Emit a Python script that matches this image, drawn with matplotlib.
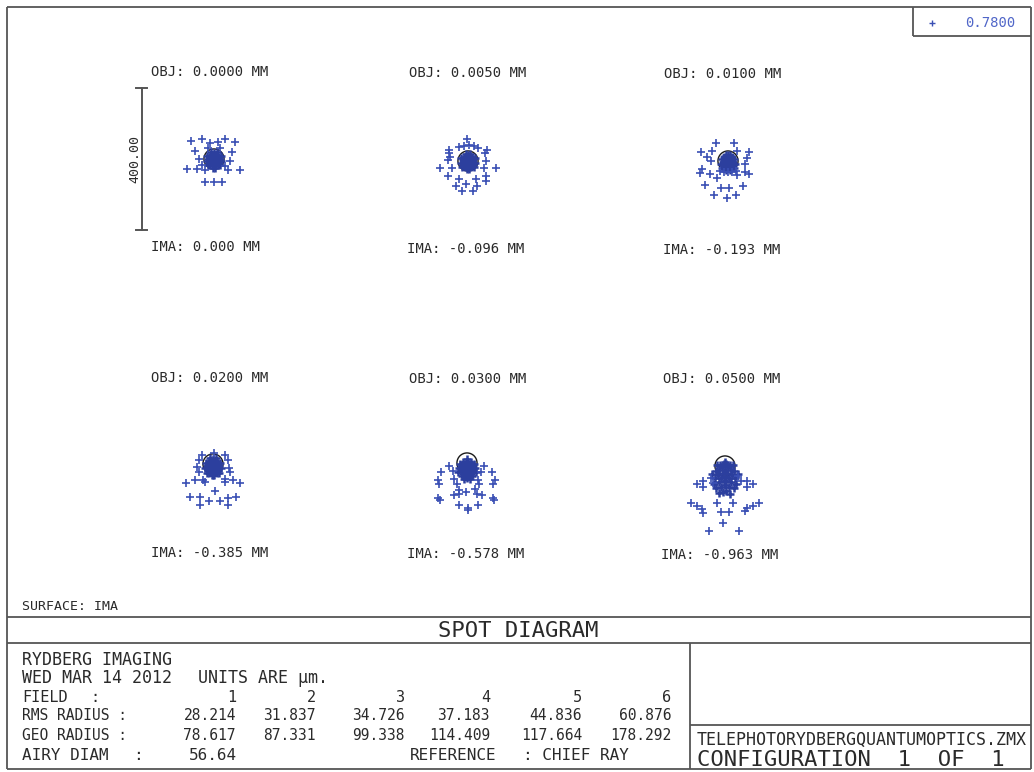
import matplotlib
matplotlib.use("Agg")
import matplotlib.pyplot as plt
from matplotlib.patches import Circle

plt.rcParams['font.family'] = ['DejaVu Sans Mono', 'DejaVu Sans']

# spot diagram data, microns relative to chief ray (x right, y up)
airy_diam = 56.64
scale_bar = 400.0
legend_wave = "0.7800"

obj_labels = ["OBJ: 0.0000 MM", "OBJ: 0.0050 MM", "OBJ: 0.0100 MM",
              "OBJ: 0.0200 MM", "OBJ: 0.0300 MM", "OBJ: 0.0500 MM"]
ima_labels = ["IMA: 0.000 MM", "IMA: -0.096 MM", "IMA: -0.193 MM",
              "IMA: -0.385 MM", "IMA: -0.578 MM", "IMA: -0.963 MM"]

ring1 = [(-64, 52), (-34, 56), (-12, 45), (11, 49), (32, 56), (60, 47), (-54, 23), (51, 19),
         (-75, -28), (-47, -28), (-25, -32), (39, -30), (72, -30), (-26, -65), (0, -65), (23, -65),
         (-42, 0), (45, -6), (-34, -17), (31, -20), (-17, 31), (17, 31)]
core1 = [(0, 0), (8, 2), (-8, 2), (16, 0), (-16, 0), (4, 10), (-4, 10), (12, 12), (-12, 12), (0, 18),
         (6, -8), (-6, -8), (14, -10), (-14, -10), (0, -16), (10, -18), (-10, -18), (20, -6), (-20, -6),
         (20, 8), (-20, 8), (4, -24), (-4, -24), (8, 20), (-8, 20), (16, -18), (-16, -18)]

ring2 = [(-2, 63), (-54, 23), (48, 23), (-56, 2), (52, 0), (-80, -20), (-46, -19), (45, -19), (80, -20),
         (-56, -43), (-25, -50), (23, -50), (52, -43), (50, -56), (-33, -71), (-6, -66), (26, -71),
         (-18, -85), (14, -85), (-25, 39), (-11, 42), (3, 44), (17, 42), (28, 37), (-54, 31), (54, 31),
         (-51, 11)]
core2 = [(0, 2), (7, -3), (-7, -3), (14, 2), (-14, 2), (5, 10), (-5, 10), (12, 12), (-12, 12), (0, 18),
         (4, -10), (-4, -10), (13, -11), (-13, -11), (0, -18), (9, -17), (-9, -17), (19, -5), (-19, -5),
         (19, 8), (-19, 8), (3, -22), (-3, -22), (7, 19), (-7, 19), (16, -16), (-16, -16)]

ring3 = [(-33, 52), (16, 52), (-75, 26), (-45, 28), (25, 28), (58, 26), (-59, 12), (54, 9), (-73, -22),
         (-78, -35), (-50, -38), (-31, -47), (25, -40), (49, -31), (58, -38), (-64, -69), (-19, -75),
         (2, -75), (41, -70), (-40, -97), (-3, -103), (23, -97), (-23, -28), (0, -31), (23, -28),
         (-11, -31), (11, -31), (-48, 0), (48, -8)]
core3 = [(0, -2), (8, 1), (-8, 1), (15, -3), (-15, -3), (4, 8), (-4, 8), (11, 12), (-11, 12), (0, 16),
         (6, -10), (-6, -10), (14, -12), (-14, -12), (0, -18), (9, -20), (-9, -20), (20, -8), (-20, -8),
         (18, 5), (-18, 5), (5, -25), (-5, -25), (6, 18), (-6, 18), (16, -19), (-16, -19)]

ring4 = [(-30, 26), (2, 30), (33, 26), (-39, 11), (42, 11), (-45, -8), (45, -11), (-39, -23), (49, -23),
         (-75, -54), (-52, -45), (-28, -45), (-23, -52), (33, -42), (33, -52), (56, -45), (77, -54),
         (5, -77), (-64, -92), (-36, -94), (-11, -105), (-38, -115), (19, -105), (42, -96), (66, -92),
         (42, -115)]
core4 = [(0, -6), (8, -2), (-8, -2), (16, -6), (-16, -6), (4, 6), (-4, 6), (12, 8), (-12, 8), (0, 14),
         (6, -14), (-6, -14), (15, -16), (-15, -16), (0, -22), (10, -26), (-10, -26), (22, -12), (-22, -12),
         (21, 2), (-21, 2), (4, -32), (-4, -32), (8, 16), (-8, 16), (18, -24), (-18, -24), (0, -30)]

ring5 = [(-52, -9), (49, -9), (-73, -25), (-40, -23), (39, -25), (70, -25), (-83, -49), (-78, -58),
         (-36, -44), (-29, -58), (30, -47), (35, -60), (80, -49), (74, -60), (-23, -75), (-3, -82),
         (23, -72), (-83, -98), (-76, -105), (-36, -91), (-23, -88), (27, -88), (42, -91), (74, -98),
         (77, -105), (-22, -119), (2, -132), (30, -119), (3, -128)]
core5 = [(0, -10), (8, -6), (-8, -6), (16, -10), (-16, -10), (4, 2), (-4, 2), (12, 4), (-12, 4), (0, 10),
         (6, -18), (-6, -18), (16, -20), (-16, -20), (0, -26), (10, -30), (-10, -30), (22, -14), (-22, -14),
         (20, -2), (-20, -2), (4, -36), (-4, -36), (14, -38), (-14, -38), (24, -26), (-24, -26), (0, -42),
         (8, -44), (-8, -44)]

ring6 = [(-78, -52), (-61, -42), (-61, -59), (-40, -33), (-35, -47), (37, -28), (44, -42), (63, -42),
         (78, -52), (63, -59), (-97, -103), (-80, -113), (-66, -122), (-63, -132), (-23, -103),
         (-12, -129), (12, -129), (22, -103), (56, -127), (63, -119), (78, -113), (97, -103), (-6, -160),
         (-44, -183), (40, -183)]
core6 = [(0, -10), (8, -4), (-8, -4), (16, -12), (-16, -12), (4, 6), (-4, 6), (14, 4), (-14, 4), (0, 12),
         (6, -20), (-6, -20), (20, -24), (-20, -24), (0, -30), (12, -34), (-12, -34), (26, -14), (-26, -14),
         (28, -34), (-28, -34), (4, -42), (-4, -42), (18, -46), (-18, -46), (32, -50), (-32, -50), (0, -54),
         (10, -58), (-10, -58), (24, -62), (-24, -62), (4, -70), (-6, -72), (14, -78), (-16, -76),
         (36, -22), (-36, -22), (22, 2), (-22, 2)]

rings = [ring1, ring2, ring3, ring4, ring5, ring6]
cores = [core1, core2, core3, core4, core5, core6]

# table
table_fields = ["1", "2", "3", "4", "5", "6"]
rms_radius = ["28.214", "31.837", "34.726", "37.183", "44.836", "60.876"]
geo_radius = ["78.617", "87.331", "99.338", "114.409", "117.664", "178.292"]

W, H = 1034, 772
fig = plt.figure(figsize=(W / 100, H / 100), dpi=100)
ax = fig.add_axes([0, 0, 1, 1])
ax.set_xlim(0, W)
ax.set_ylim(H, 0)
ax.axis('off')

ink = '#2a2a2a'
lc = '#555555'
blue = '#3a4fb4'

# frame
def line(x0, y0, x1, y1, lw=1.3):
    ax.plot([x0, x1], [y0, y1], color=lc, lw=lw, solid_capstyle='butt')

line(7, 7, 1031, 7)
line(7, 7, 7, 769)
line(1031, 7, 1031, 769)
line(7, 769, 1031, 769)
line(7, 617, 1031, 617)
line(7, 643, 1031, 643)
line(690, 643, 690, 769)
line(690, 725, 1031, 725)
line(913, 7, 913, 36)
line(913, 36, 1031, 36)

# legend
ax.plot([932], [23], marker='+', ms=4, mew=1, color=blue, ls='none')
ax.text(990, 23, legend_wave, color='#5066c8', fontsize=10, ha='center', va='center')

# spot panels
centers = [(214, 159), (468, 161), (728, 161), (213, 464), (467, 463), (725, 466)]
obj_pos = [(210, 72), (468, 73), (723, 74), (210, 378), (468, 379), (722, 379)]
ima_pos = [(205, 247), (466, 249), (722, 250), (210, 553), (466, 554), (720, 555)]
px_per_um = 142 / scale_bar
half = 250

for i in range(6):
    cx, cy = centers[i]
    s = half * px_per_um
    a = fig.add_axes([(cx - s) / W, (H - cy - s) / H, 2 * s / W, 2 * s / H])
    a.set_xlim(-half, half)
    a.set_ylim(-half, half)
    a.axis('off')
    a.patch.set_alpha(0)
    cx_, cy_ = zip(*cores[i])
    a.plot(cx_, cy_, ls='none', marker='+', ms=6, mew=1.8, color='#2c3f9e', clip_on=False)
    rx, ry = zip(*rings[i])
    a.plot(rx, ry, ls='none', marker='+', ms=5.5, mew=1.2, color=blue, clip_on=False)
    a.add_patch(Circle((0, 0), airy_diam / 2, fill=False, ec='#1a1a1a', lw=1.0))
    if i == 0:
        bx = -204
        a.plot([bx, bx], [-scale_bar / 2, scale_bar / 2], color=lc, lw=1.4, clip_on=False)
        a.plot([bx - 16, bx + 16], [scale_bar / 2] * 2, color=lc, lw=1.4, clip_on=False)
        a.plot([bx - 16, bx + 16], [-scale_bar / 2] * 2, color=lc, lw=1.4, clip_on=False)
        a.text(bx - 20, 0, "%.2f" % scale_bar, rotation=90, ha='center', va='center',
               fontsize=9.5, color=ink, clip_on=False)
    ax.text(obj_pos[i][0], obj_pos[i][1], obj_labels[i], ha='center', va='center', fontsize=10, color=ink)
    ax.text(ima_pos[i][0], ima_pos[i][1], ima_labels[i], ha='center', va='center', fontsize=10, color=ink)

# bottom text
ax.text(22, 607, "SURFACE: IMA", ha='left', va='center', fontsize=9.5, color=ink)
ax.text(518, 631, "SPOT DIAGRAM", ha='center', va='center', fontsize=16, color=ink)

ax.text(22, 660, "RYDBERG IMAGING", ha='left', va='center', fontsize=12, color=ink)
ax.text(22, 678, "WED MAR 14 2012", ha='left', va='center', fontsize=12, color=ink)
ax.text(198, 678, "UNITS ARE µm.", ha='left', va='center', fontsize=12, color=ink)
ax.text(22, 697, "FIELD", ha='left', va='center', fontsize=11, color=ink)
ax.text(95, 697, ":", ha='center', va='center', fontsize=11, color=ink)
ax.text(22, 716, "RMS RADIUS :", ha='left', va='center', fontsize=10.5, color=ink)
ax.text(22, 735, "GEO RADIUS :", ha='left', va='center', fontsize=10.5, color=ink)
ax.text(22, 755, "AIRY DIAM", ha='left', va='center', fontsize=11.5, color=ink)
ax.text(138, 755, ":", ha='center', va='center', fontsize=11.5, color=ink)
ax.text(237, 755, "%.2f" % airy_diam, ha='right', va='center', fontsize=11.5, color=ink)
ax.text(410, 755, "REFERENCE", ha='left', va='center', fontsize=11.5, color=ink)
ax.text(523, 755, ": CHIEF RAY", ha='left', va='center', fontsize=11.5, color=ink)

col_right = [236, 316, 405, 490, 582, 671]
for j in range(6):
    ax.text(col_right[j], 698, table_fields[j], ha='right', va='center', fontsize=11, color=ink)
    ax.text(col_right[j], 716, rms_radius[j], ha='right', va='center', fontsize=10.5, color=ink)
    ax.text(col_right[j], 735, geo_radius[j], ha='right', va='center', fontsize=10.5, color=ink)

ax.text(697, 740, "TELEPHOTORYDBERGQUANTUMOPTICS.ZMX", ha='left', va='center', fontsize=12, color=ink)
ax.text(697, 760, "CONFIGURATION  1  OF  1", ha='left', va='center', fontsize=16, color=ink)

fig.savefig("out.png", dpi=100)
